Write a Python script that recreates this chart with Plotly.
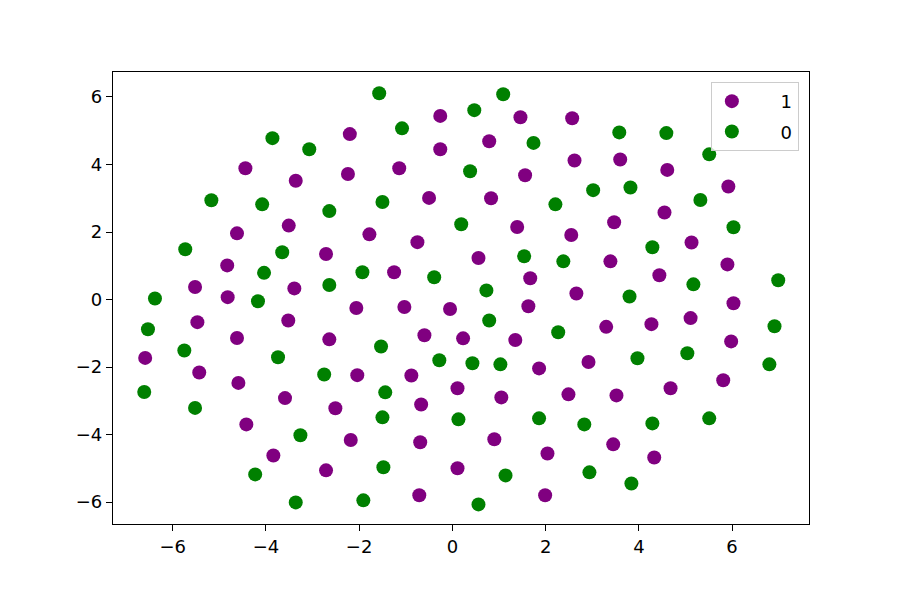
import plotly.graph_objects as go

# class "1" (purple)
x1 = [-2.20, -4.44, -3.36, -2.24, -3.51, -4.62, -2.71, -4.83, -5.52, -3.39, -4.82,
      -0.26, 1.46, 2.57, 0.79, -0.26, 2.62, -1.14, 1.56, -0.50, 0.83, 1.39, -1.78,
      -0.75, 2.55, 0.56, -1.25, 1.67, 2.66, 3.60, 4.61, 5.92, 4.55, 3.47, 5.13,
      3.39, 5.90, 4.44, 6.03, -5.47, -3.52, -4.62, -2.64, -6.59, -5.43, -4.59,
      -3.59, -2.51, -4.42, -2.18, -3.84, -2.71, -2.06, -1.03, -0.05, 1.63, -0.60,
      0.23, 1.35, 1.86, -2.04, -0.88, 0.11, 1.05, 2.49, -0.67, -0.69, 0.90, 2.04,
      0.11, -0.71, 1.99, 3.30, 4.27, 5.11, 5.98, 2.92, 3.52, 4.68, 5.81, 3.45, 4.33]
y1 = [4.90, 3.89, 3.52, 3.72, 2.19, 1.96, 1.35, 1.01, 0.37, 0.33, 0.07,
      5.44, 5.40, 5.37, 4.69, 4.45, 4.12, 3.89, 3.68, 3.01, 3.00, 2.15, 1.93,
      1.70, 1.91, 1.23, 0.81, 0.63, 0.18, 4.15, 3.84, 3.35, 2.58, 2.29, 1.69,
      1.13, 1.04, 0.72, -0.11, -0.67, -0.62, -1.14, -1.18, -1.73, -2.16, -2.47,
      -2.92, -3.22, -3.70, -4.16, -4.62, -5.06, -0.25, -0.22, -0.28, -0.20, -1.06,
      -1.15, -1.20, -2.04, -2.24, -2.25, -2.63, -2.90, -2.81, -3.11, -4.23, -4.14, -4.56,
      -5.00, -5.80, -5.80, -0.81, -0.73, -0.55, -1.24, -1.85, -2.84, -2.63, -2.39, -4.29, -4.68]

# class "0" (green)
x0 = [-3.86, -3.07, -5.17, -4.08, -2.64, -5.73, -3.65, -4.04, -2.64, -6.38, -4.17,
      -1.57, 1.09, 0.47, -1.08, 1.74, 0.38, -1.50, 2.21, 0.19, 1.54, 2.38, -1.93,
      -0.39, 0.73, 3.58, 4.59, 5.51, 3.02, 3.82, 5.32, 6.03, 4.29, 5.17, 6.99, 3.80,
      -6.53, -5.75, -3.74, -2.75, -6.61, -5.52, -3.26, -4.23, -3.36, 0.79, 2.27,
      -1.53, -0.28, 0.43, 1.03, -1.44, -1.50, 0.13, 1.86, -1.48, 1.14, -1.91, 0.56,
      6.91, 3.97, 5.04, 6.80, 2.83, 4.29, 5.51, 2.94, 3.84]
y0 = [4.78, 4.45, 2.94, 2.82, 2.62, 1.49, 1.40, 0.79, 0.43, 0.03, -0.05,
      6.11, 6.08, 5.61, 5.07, 4.64, 3.80, 2.89, 2.82, 2.23, 1.28, 1.13, 0.81,
      0.66, 0.27, 4.95, 4.93, 4.30, 3.24, 3.32, 2.95, 2.14, 1.55, 0.45, 0.57, 0.09,
      -0.88, -1.51, -1.71, -2.22, -2.74, -3.21, -4.02, -5.18, -6.01, -0.62, -0.97,
      -1.39, -1.80, -1.89, -1.92, -2.75, -3.49, -3.55, -3.52, -4.97, -5.21, -5.95, -6.07,
      -0.79, -1.74, -1.59, -1.92, -3.70, -3.67, -3.52, -5.12, -5.45]

fig = go.Figure()
fig.add_trace(go.Scatter(x=x1, y=y1, mode="markers", name="     1", legendgroup="g1",
                         marker=dict(color="#800080", size=14, line=dict(width=0))))
fig.add_trace(go.Scatter(x=x0, y=y0, mode="markers", name="     0", legendgroup="g0",
                         marker=dict(color="#008000", size=14, line=dict(width=0))))

axis_common = dict(showgrid=False, zeroline=False, showline=True, linecolor="black",
                   linewidth=1.2, mirror=True, ticks="outside", ticklen=6, tickwidth=1.2,
                   tickcolor="black", tickfont=dict(family="DejaVu Sans", size=18, color="black"),
                   dtick=2)
fig.update_xaxes(range=[-7.28, 7.65], tick0=0, **axis_common)
fig.update_yaxes(range=[-6.65, 6.74], tick0=0, **axis_common)

fig.update_layout(
    width=900, height=600,
    margin=dict(l=105, r=99, t=64, b=84),
    plot_bgcolor="white", paper_bgcolor="white",
    font=dict(family="DejaVu Sans", size=18, color="black"),
    legend=dict(x=0.859, y=0.978, xanchor="left", yanchor="top",
                bordercolor="#cccccc", borderwidth=1, bgcolor="rgba(255,255,255,0.8)",
                tracegroupgap=4, font=dict(size=18)),
)

fig.write_html("out.html")
